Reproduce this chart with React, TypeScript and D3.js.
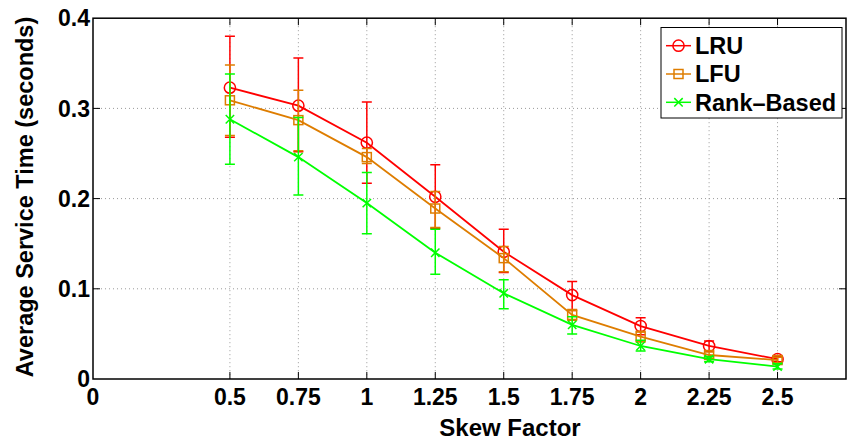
import React from "react";
import * as d3 from "d3";

// skew factor on the x axis
const skew = [0.5, 0.75, 1, 1.25, 1.5, 1.75, 2, 2.25, 2.5];
const xTickVals = [0, 0.5, 0.75, 1, 1.25, 1.5, 1.75, 2, 2.25, 2.5];
const xTickLabels = ["0", "0.5", "0.75", "1", "1.25", "1.5", "1.75", "2", "2.25", "2.5"];
const yTickVals = [0, 0.1, 0.2, 0.3, 0.4];
const yTickLabels = ["0", "0.1", "0.2", "0.3", "0.4"];

// average service time (seconds) with error bounds
const lruMean = [0.323, 0.303, 0.262, 0.202, 0.141, 0.093, 0.0587, 0.0366, 0.022];
const lruLow = [0.268, 0.252, 0.217, 0.167, 0.118, 0.076, 0.049, 0.031, 0.019];
const lruHigh = [0.38, 0.356, 0.307, 0.2375, 0.166, 0.108, 0.068, 0.042, 0.025];

const lfuMean = [0.309, 0.287, 0.246, 0.189, 0.134, 0.071, 0.047, 0.0266, 0.021];
const lfuLow = [0.27, 0.253, 0.239, 0.168, 0.119, 0.065, 0.041, 0.023, 0.018];
const lfuHigh = [0.348, 0.32, 0.2556, 0.208, 0.147, 0.077, 0.053, 0.03, 0.024];

const rankMean = [0.288, 0.246, 0.195, 0.14, 0.095, 0.06, 0.0366, 0.022, 0.0137];
const rankLow = [0.238, 0.204, 0.161, 0.116, 0.078, 0.05, 0.031, 0.019, 0.011];
const rankHigh = [0.338, 0.29, 0.229, 0.166, 0.11, 0.069, 0.043, 0.025, 0.017];

const seriesNames = ["LRU", "LFU", "Rank\u2013Based"];
const seriesColors = ["#ff0000", "#de7d00", "#00ff00"];
const seriesMarkers = ["circle", "square", "x"];

const W = 849;
const H = 442;
const left = 93;
const right = 846;
const top = 18.2;
const bottom = 379;
const font = "'Liberation Sans', Arial, Helvetica, sans-serif";

function Marker({ type, x, y, color }: { type: string; x: number; y: number; color: string }) {
  if (type === "circle") {
    return <circle cx={x} cy={y} r={5.6} fill="none" stroke={color} strokeWidth={1.5} />;
  }
  if (type === "square") {
    return <rect x={x - 4.5} y={y - 4.5} width={9} height={9} fill="none" stroke={color} strokeWidth={1.5} />;
  }
  const s = 4.2;
  return (
    <path d={`M${x - s},${y - s}L${x + s},${y + s}M${x - s},${y + s}L${x + s},${y - s}`} stroke={color} strokeWidth={1.5} />
  );
}

export default function App() {
  const x = d3.scaleLinear().domain([0, 2.75]).range([left, right]);
  const y = d3.scaleLinear().domain([0, 0.4]).range([bottom, top]);

  const series = [
    { mean: lruMean, low: lruLow, high: lruHigh },
    { mean: lfuMean, low: lfuLow, high: lfuHigh },
    { mean: rankMean, low: rankLow, high: rankHigh },
  ];

  const line = d3
    .line<number>()
    .x((_, i) => x(skew[i]))
    .y((d) => y(d));

  const tickLen = 7;
  const cap = 5;

  return (
    <svg width={W} height={H} style={{ position: "absolute", left: 0, top: 0, background: "#fff" }} fontFamily={font}>
      <rect x={0} y={0} width={W} height={H} fill="#fff" />

      {/* grid */}
      {xTickVals.slice(1).map((v) => (
        <line key={"gx" + v} x1={x(v)} x2={x(v)} y1={top} y2={bottom} stroke="#9a9a9a" strokeWidth={1} strokeDasharray="1,3" />
      ))}
      {yTickVals.slice(1, -1).map((v) => (
        <line key={"gy" + v} x1={left} x2={right} y1={y(v)} y2={y(v)} stroke="#9a9a9a" strokeWidth={1} strokeDasharray="1,3" />
      ))}

      {/* ticks, inside and mirrored */}
      {xTickVals.slice(1).map((v) => (
        <g key={"tx" + v} stroke="#000" strokeWidth={1}>
          <line x1={x(v)} x2={x(v)} y1={bottom} y2={bottom - tickLen} />
          <line x1={x(v)} x2={x(v)} y1={top} y2={top + tickLen} />
        </g>
      ))}
      {yTickVals.slice(1, -1).map((v) => (
        <g key={"ty" + v} stroke="#000" strokeWidth={1}>
          <line x1={left} x2={left + tickLen} y1={y(v)} y2={y(v)} />
          <line x1={right} x2={right - tickLen} y1={y(v)} y2={y(v)} />
        </g>
      ))}

      {/* data */}
      {series.map((s, k) => (
        <g key={"s" + k}>
          {skew.map((v, i) => (
            <path
              key={"e" + i}
              d={`M${x(v)},${y(s.low[i])}V${y(s.high[i])}M${x(v) - cap},${y(s.low[i])}H${x(v) + cap}M${x(v) - cap},${y(s.high[i])}H${x(v) + cap}`}
              stroke={seriesColors[k]}
              strokeWidth={1.5}
              fill="none"
            />
          ))}
          <path d={line(s.mean) || ""} fill="none" stroke={seriesColors[k]} strokeWidth={1.8} />
          {skew.map((v, i) => (
            <Marker key={"m" + i} type={seriesMarkers[k]} x={x(v)} y={y(s.mean[i])} color={seriesColors[k]} />
          ))}
        </g>
      ))}

      {/* axes box */}
      <rect x={left} y={top} width={right - left} height={bottom - top} fill="none" stroke="#000" strokeWidth={1.5} />

      {/* tick labels */}
      {xTickVals.map((v, i) => (
        <text key={"lx" + v} x={x(v)} y={405} textAnchor="middle" fontSize={23} fontWeight="bold">
          {xTickLabels[i]}
        </text>
      ))}
      {yTickVals.map((v, i) => (
        <text key={"ly" + v} x={90} y={y(v)} dy="0.36em" textAnchor="end" fontSize={23} fontWeight="bold">
          {yTickLabels[i]}
        </text>
      ))}

      {/* axis titles */}
      <text x={510} y={436} textAnchor="middle" fontSize={24} fontWeight="bold">
        Skew Factor
      </text>
      <text transform="translate(33,197) rotate(-90)" textAnchor="middle" fontSize={23.5} fontWeight="bold">
        Average Service Time (seconds)
      </text>

      {/* legend */}
      <rect x={661} y={27.5} width={181} height={90.5} fill="#fff" stroke="#000" strokeWidth={1} />
      {seriesNames.map((name, k) => {
        const cy = 45.7 + k * 28.3;
        return (
          <g key={"lg" + k}>
            <line x1={666} x2={691} y1={cy} y2={cy} stroke={seriesColors[k]} strokeWidth={1.5} />
            <Marker type={seriesMarkers[k]} x={678.5} y={cy} color={seriesColors[k]} />
            <text x={695} y={cy} dy="0.36em" fontSize={23.5} fontWeight="bold">
              {name}
            </text>
          </g>
        );
      })}
    </svg>
  );
}
